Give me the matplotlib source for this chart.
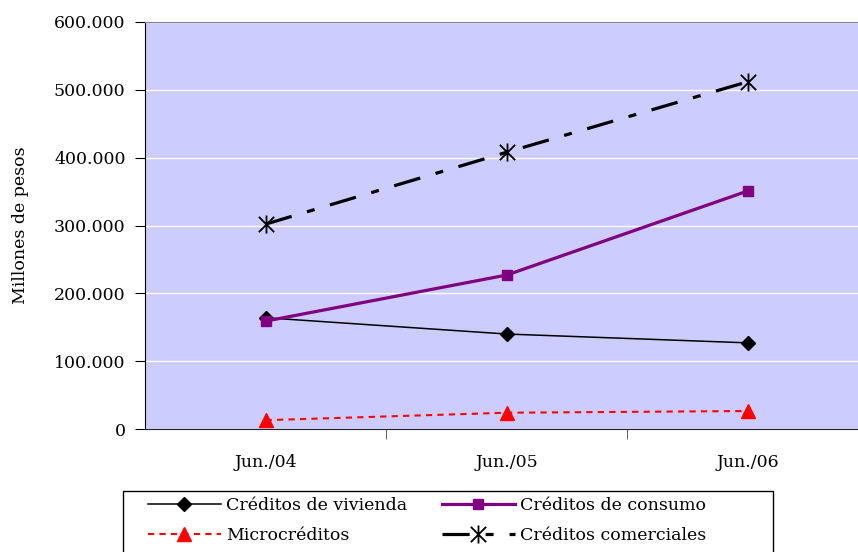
import matplotlib.pyplot as plt
from matplotlib.path import Path
from matplotlib.patches import Rectangle

periodos = ["Jun./04", "Jun./05", "Jun./06"]
vivienda = [164000, 140000, 127000]
consumo = [159000, 227000, 351000]
micro = [13000, 24000, 26500]
comerciales = [302000, 408000, 512000]
yticks = [0, 100000, 200000, 300000, 400000, 500000, 600000]
ytick_labels = ["0", "100.000", "200.000", "300.000", "400.000", "500.000", "600.000"]

plt.rcParams['font.family'] = ['DejaVu Serif']
plt.rcParams['font.size'] = 12.5

# asterisk marker: X plus a vertical bar
star = Path([(0, -1), (0, 1), (-0.85, -0.85), (0.85, 0.85), (-0.85, 0.85), (0.85, -0.85)],
            [Path.MOVETO, Path.LINETO, Path.MOVETO, Path.LINETO, Path.MOVETO, Path.LINETO])

W, H = 858, 552
fig = plt.figure(figsize=(W/100, H/100), dpi=100)
ax = fig.add_axes([145/W, 1-429/H, (868.5-145)/W, (429-22)/H])
ax.set_facecolor('#CCCCFF')

x = range(len(periodos))
l1, = ax.plot(x, vivienda, color='black', lw=1.1, marker='D', ms=7, label="Créditos de vivienda")
l2, = ax.plot(x, consumo, color='#800080', lw=2.3, marker='s', ms=7, label="Créditos de consumo")
l3, = ax.plot(x, micro, color='red', lw=1.5, ls=(0, (3, 2.5)), marker='^', ms=9.5, label="Microcréditos")
l4, = ax.plot(x, comerciales, color='black', lw=2.3, ls=(0, (8.5, 5, 2.5, 5)), marker=star, ms=13,
              mew=1.3, mfc='none', mec='black', label="Créditos comerciales")

ax.set_xlim(-0.5, 2.5)
ax.set_ylim(0, 600000)
ax.set_yticks(yticks)
ax.set_yticklabels(ytick_labels)
ax.yaxis.grid(True, color='white', lw=1)
ax.set_axisbelow(True)
ax.tick_params(axis='y', length=7, pad=7, color='black')
ax.set_xticks(list(x))
ax.set_xticklabels(periodos)
ax.tick_params(axis='x', which='major', length=0, pad=18)
ax.set_xticks([0.5, 1.5], minor=True)
ax.tick_params(axis='x', which='minor', length=7, color='#444444')
ax.set_ylabel("Millones de pesos", labelpad=18)

ax.spines['left'].set_color('black')
ax.spines['bottom'].set_color('#222222')
ax.spines['top'].set_color('#888888')
ax.spines['right'].set_color('#888888')

fig.patches.append(Rectangle((123/W, -0.05), (773-123)/W, 0.05+1-491/H, transform=fig.transFigure,
                             fill=False, edgecolor='black', lw=1))
fig.legend([l1, l3, l2, l4], [l.get_label() for l in (l1, l3, l2, l4)],
           loc='upper left', bbox_to_anchor=(148/W, 1-497/H), ncol=2, frameon=False,
           borderpad=0, borderaxespad=0, handlelength=4.2, handletextpad=0.3,
           columnspacing=2.0, labelspacing=0.75)

fig.savefig("out.png", dpi=100)
